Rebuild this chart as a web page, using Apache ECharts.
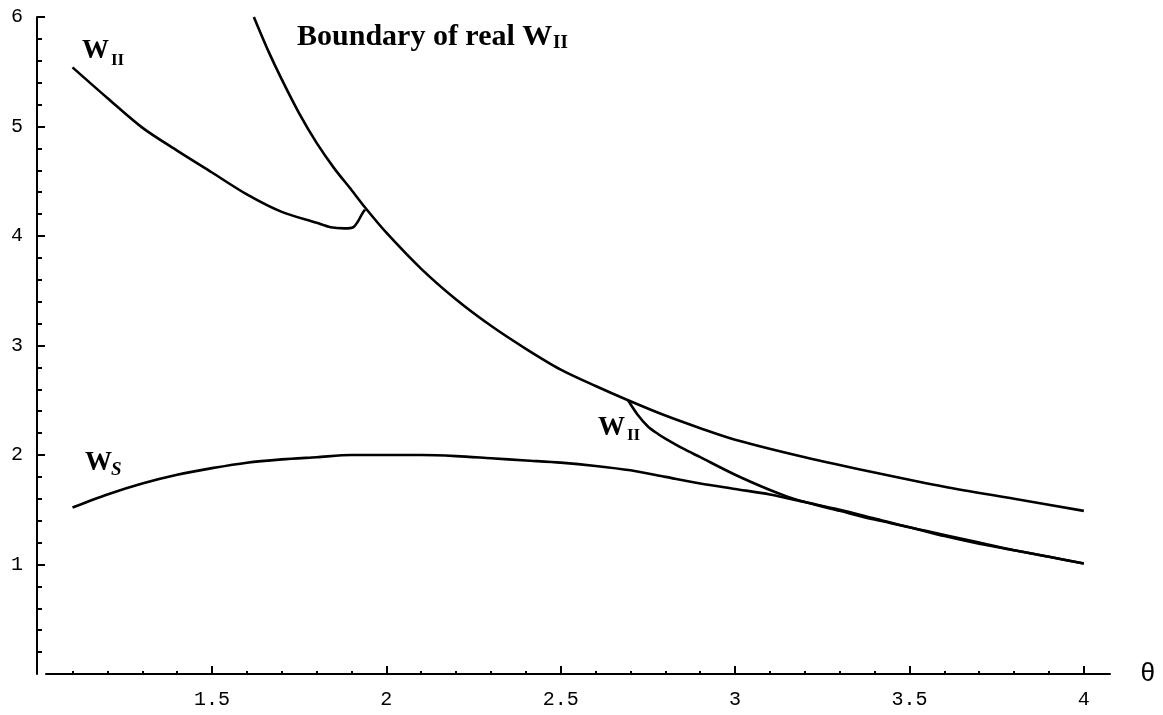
<!DOCTYPE html>
<html>
<head>
<meta charset="utf-8">
<script src="https://cdn.jsdelivr.net/npm/echarts@6/dist/echarts.min.js"></script>
<style>
html,body{margin:0;padding:0;background:#fff;}
#c{width:1163px;height:715px;}
</style>
</head>
<body>
<div id="c"></div>
<script>
// ---- data ----
const xMajorTicks = [1.5, 2, 2.5, 3, 3.5, 4];
const xMinorTicks = [1.1, 1.2, 1.3, 1.4, 1.6, 1.7, 1.8, 1.9, 2.1, 2.2, 2.3, 2.4, 2.6, 2.7, 2.8, 2.9, 3.1, 3.2, 3.3, 3.4, 3.6, 3.7, 3.8, 3.9];
const yMajorTicks = [1, 2, 3, 4, 5, 6];
const yMinorTicks = [0.2, 0.4, 0.6, 0.8, 1.2, 1.4, 1.6, 1.8, 2.2, 2.4, 2.6, 2.8, 3.2, 3.4, 3.6, 3.8, 4.2, 4.4, 4.6, 4.8, 5.2, 5.4, 5.6, 5.8];

// W_S curve
const wsX = [1.1, 1.2, 1.3, 1.4, 1.5, 1.6, 1.7, 1.8, 1.9, 2.0, 2.1, 2.2, 2.3, 2.4, 2.5, 2.6, 2.7, 2.8, 2.9, 3.0, 3.1, 3.2, 3.3, 3.4, 3.5, 3.6, 3.7, 3.8, 3.9, 4.0];
const wsY = [1.52, 1.64, 1.74, 1.82, 1.88, 1.93, 1.96, 1.98, 2.00, 2.00, 2.00, 1.99, 1.97, 1.95, 1.93, 1.90, 1.86, 1.80, 1.74, 1.69, 1.64, 1.57, 1.50, 1.42, 1.34, 1.27, 1.20, 1.13, 1.07, 1.01];

// W_II (upper left branch)
const w2X = [1.1, 1.2, 1.3, 1.4, 1.5, 1.6, 1.7, 1.8, 1.84, 1.88, 1.905, 1.918, 1.93, 1.939];
const w2Y = [5.54, 5.26, 4.99, 4.78, 4.58, 4.38, 4.22, 4.12, 4.08, 4.07, 4.08, 4.13, 4.20, 4.24];

// Boundary of real W_II
const bX = [1.62, 1.66, 1.70, 1.75, 1.80, 1.85, 1.90, 1.939, 2.0, 2.1, 2.2, 2.3, 2.4, 2.5, 2.6, 2.693, 2.8, 2.9, 3.0, 3.2, 3.4, 3.6, 3.8, 4.0];
const bY = [6.0, 5.70, 5.43, 5.12, 4.85, 4.62, 4.42, 4.26, 4.03, 3.70, 3.42, 3.18, 2.97, 2.78, 2.63, 2.50, 2.36, 2.245, 2.14, 1.98, 1.84, 1.71, 1.60, 1.49];

// W_I (lower right branch)
const w1X = [2.693, 2.72, 2.75, 2.78, 2.8, 2.85, 2.9, 3.0, 3.1, 3.15, 3.2, 3.3, 3.4, 3.5, 3.6, 3.7, 3.8, 3.9, 4.0];
const w1Y = [2.50, 2.37, 2.26, 2.19, 2.15, 2.06, 1.98, 1.82, 1.68, 1.62, 1.57, 1.49, 1.41, 1.34, 1.26, 1.19, 1.13, 1.07, 1.01];

const pairs = (xs, ys) => xs.map((x, i) => [x, ys[i]]);

const X_MIN = 1.024, X_MAX = 4.075;
const monoFont = '"Liberation Mono", "DejaVu Sans Mono", monospace';
const serifFont = '"Liberation Serif", "DejaVu Serif", serif';

const lineStyle = { color: '#000', width: 2.6 };
const mkSeries = (name, data) => ({
  name, type: 'line', data, showSymbol: false, symbol: 'none',
  smooth: 0.3, lineStyle, silent: true, animation: false,
  xAxisIndex: 0, yAxisIndex: 0
});

const gridRect = { left: 46, right: 53, top: 17, bottom: 41 };

const chart = echarts.init(document.getElementById('c'), null, { renderer: 'canvas' });
chart.setOption({
  backgroundColor: '#fff',
  animation: false,
  grid: [Object.assign({}, gridRect), Object.assign({}, gridRect)],
  xAxis: [{
    type: 'value', gridIndex: 0, min: X_MIN, max: X_MAX,
    name: 'θ', nameLocation: 'end', nameGap: 30,
    nameTextStyle: { fontFamily: monoFont, fontSize: 26, color: '#000', verticalAlign: 'middle' },
    axisLine: { show: true, lineStyle: { color: '#000', width: 2 } },
    axisTick: { show: true, inside: true, length: 8, customValues: xMajorTicks, lineStyle: { color: '#000', width: 2 } },
    axisLabel: { show: true, customValues: xMajorTicks, margin: 16, fontFamily: monoFont, fontSize: 20, color: '#000',
      formatter: v => String(v) },
    splitLine: { show: false }
  }, {
    type: 'value', gridIndex: 1, min: X_MIN, max: X_MAX, position: 'bottom',
    axisLine: { show: false },
    axisTick: { show: true, inside: true, length: 3, customValues: xMinorTicks, lineStyle: { color: '#000', width: 2 } },
    axisLabel: { show: false },
    splitLine: { show: false }
  }],
  yAxis: [{
    type: 'value', gridIndex: 0, min: 0, max: 6, offset: 9,
    axisLine: { show: true, lineStyle: { color: '#000', width: 2 } },
    axisTick: { show: true, inside: true, length: 8, customValues: yMajorTicks, lineStyle: { color: '#000', width: 2 } },
    axisLabel: { show: true, customValues: yMajorTicks, margin: 14, fontFamily: monoFont, fontSize: 20, color: '#000',
      formatter: v => String(v) },
    splitLine: { show: false }
  }, {
    type: 'value', gridIndex: 1, min: 0, max: 6, offset: 9, position: 'left',
    axisLine: { show: false },
    axisTick: { show: true, inside: true, length: 5, customValues: yMinorTicks, lineStyle: { color: '#000', width: 2 } },
    axisLabel: { show: false },
    splitLine: { show: false }
  }],
  series: [
    mkSeries('W_S', pairs(wsX, wsY)),
    mkSeries('W_II upper', pairs(w2X, w2Y)),
    mkSeries('Boundary of real W_II', pairs(bX, bY)),
    mkSeries('W_I lower', pairs(w1X, w1Y))
  ],
  graphic: [
    { type: 'text', left: 297, top: 22, style: { text: 'Boundary of real W', font: 'bold 30px ' + serifFont, fill: '#000' } },
    { type: 'text', left: 553, top: 34, style: { text: 'II', font: 'bold 19px ' + serifFont, fill: '#000' } },
    { type: 'text', left: 82, top: 38, style: { text: 'W', font: 'bold 27px ' + serifFont, fill: '#000' } },
    { type: 'text', left: 111, top: 52, style: { text: 'II', font: 'bold 17px ' + serifFont, fill: '#000' } },
    { type: 'text', left: 598, top: 415, style: { text: 'W', font: 'bold 27px ' + serifFont, fill: '#000' } },
    { type: 'text', left: 627, top: 427, style: { text: 'II', font: 'bold 17px ' + serifFont, fill: '#000' } },
    { type: 'text', left: 85, top: 450, style: { text: 'W', font: 'bold 27px ' + serifFont, fill: '#000' } },
    { type: 'text', left: 111, top: 461, style: { text: 'S', font: 'italic bold 19px ' + serifFont, fill: '#000' } }
  ]
});
</script>
</body>
</html>
